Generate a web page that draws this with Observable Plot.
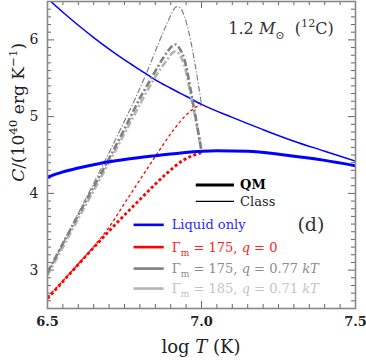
<!DOCTYPE html>
<html><head><meta charset="utf-8">
<script src="https://cdn.jsdelivr.net/npm/d3@7"></script>
<script src="https://cdn.jsdelivr.net/npm/@observablehq/plot@0.6"></script>
<style>body{margin:0;background:#fff} svg{display:block} svg text{white-space:pre}</style>
</head><body><div id="chart"></div>
<script>
// ---- data ----
const liqClassX = [6.5,6.55,6.6,6.65,6.7,6.75,6.8,6.85,6.9,6.95,7.0,7.1,7.2,7.3,7.4,7.5];
const liqClassY = [6.54,6.36,6.19,6.03,5.88,5.74,5.61,5.48,5.37,5.265,5.16,4.99,4.83,4.68,4.55,4.42];
const liqQMX = [6.5,6.55,6.6,6.67,6.75,6.85,6.94,7.05,7.15,7.27,7.4,7.5];
const liqQMY = [4.21,4.28,4.33,4.39,4.44,4.49,4.53,4.555,4.55,4.50,4.43,4.36];
const q0ClassX = [6.5,6.6,6.7,6.76,6.85,6.91,6.95,6.98,7.0];
const q0ClassY = [2.65,3.08,3.56,3.93,4.48,4.83,5.02,5.12,5.16];
const q0QMX = [6.5,6.59,6.7,6.8,6.85,6.89,6.94,6.97,7.0];
const q0QMY = [2.63,3.03,3.51,3.92,4.12,4.27,4.43,4.49,4.53];
const q77ClassX = [6.5,6.6,6.68,6.74,6.79,6.83,6.86,6.89,6.905,6.918,6.93,6.945,6.96,6.98,7.0];
const q77ClassY = [2.96,3.74,4.37,4.86,5.28,5.65,5.95,6.23,6.36,6.43,6.42,6.30,6.08,5.66,5.16];
const q77QMX = [6.5,6.6,6.69,6.75,6.8,6.84,6.87,6.89,6.905,6.915,6.93,6.945,6.967,6.985,7.0];
const q77QMY = [2.97,3.72,4.38,4.84,5.24,5.52,5.73,5.85,5.92,5.94,5.88,5.74,5.30,4.90,4.55];
const q71QMX = [6.5,6.6,6.69,6.75,6.8,6.84,6.87,6.89,6.905,6.915,6.93,6.945,6.967,6.985,7.0];
const q71QMY = [2.93,3.67,4.33,4.78,5.16,5.45,5.64,5.75,5.83,5.85,5.80,5.66,5.24,4.88,4.55];

const xTickLabels = [6.5, 7.0, 7.5];
const xMinorTicks = [6.55,6.6,6.65,6.7,6.75,6.8,6.85,6.9,6.95,7.05,7.1,7.15,7.2,7.25,7.3,7.35,7.4,7.45];
const yTickLabels = [3, 4, 5, 6];
const yMinorTicks = d3.range(26, 65).map(d => d / 10).filter(d => Math.abs(d - Math.round(d)) > 1e-6);

const legendLabels = ["Liquid only", "Γm = 175, q = 0", "Γm = 175, q = 0.77 kT", "Γm = 185, q = 0.71 kT"];
const legendY = [3.59, 3.30, 3.02, 2.76];
const legendX1 = 6.781, legendX2 = 6.879, legendTextX = 6.905;
const keyLabels = ["QM", "Class"];
const keyY = [4.11, 3.895];
const keyX1 = 6.983, keyX2 = 7.107, keyTextX = 7.127;

const zip = (xs, ys) => xs.map((x, i) => ({x, y: ys[i]}));

const W = 366, Hh = 362, mL = 47, mR = 11, mT = 1, mB = 54;
const PW = W - mL - mR, PH = Hh - mT - mB;
const SERIF = "DejaVu Serif";
const BLUE = "#0000ff", RED = "#ff0000", DGRAY = "#808080", LGRAY = "#b4b4b4";

const lineOpts = (stroke, sw, dash) => ({x: "x", y: "y", stroke, strokeWidth: sw, strokeDasharray: dash, curve: "monotone-x", clip: true, strokeLinecap: "butt"});

const legendRows = [
  {x1: legendX1, x2: legendX2, y: legendY[0], stroke: BLUE, sw: 2.6, dash: null},
  {x1: legendX1, x2: legendX2, y: legendY[1], stroke: RED, sw: 2.6, dash: "3,2.4"},
  {x1: legendX1, x2: legendX2, y: legendY[2], stroke: DGRAY, sw: 2.6, dash: "7,2.5,2,2.5"},
  {x1: legendX1, x2: legendX2, y: legendY[3], stroke: LGRAY, sw: 2.6, dash: "7,2.5,2,2.5"}
];
const keyRows = [
  {x1: keyX1, x2: keyX2, y: keyY[0], sw: 3},
  {x1: keyX1, x2: keyX2, y: keyY[1], sw: 1.3}
];

const chart = Plot.plot({
  width: W, height: Hh,
  marginLeft: mL, marginRight: mR, marginTop: mT, marginBottom: mB,
  style: {background: "#fff", fontFamily: SERIF},
  x: {domain: [6.5, 7.5], label: null},
  y: {domain: [2.5, 6.5], label: null},
  marks: [
    Plot.axisX({ticks: xTickLabels, tickSize: 0, tickPadding: 8, tickFormat: d3.format(".1f"), fontSize: 13, fontWeight: "bold", fill: "#222", fontFamily: SERIF}),
    Plot.axisY({ticks: yTickLabels, tickSize: 0, tickPadding: 9, tickFormat: d3.format("d"), fontSize: 14, fill: "#222", fontFamily: SERIF}),
    // inward ticks on all four sides
    Plot.tickX(xMinorTicks, {x: d => d, insetTop: PH - 4, stroke: "#666"}),
    Plot.tickX(xMinorTicks, {x: d => d, insetBottom: PH - 4, stroke: "#666"}),
    Plot.tickX(xTickLabels, {x: d => d, insetTop: PH - 7, stroke: "#666"}),
    Plot.tickX(xTickLabels, {x: d => d, insetBottom: PH - 7, stroke: "#666"}),
    Plot.tickY(yMinorTicks, {y: d => d, insetRight: PW - 4, stroke: "#666"}),
    Plot.tickY(yMinorTicks, {y: d => d, insetLeft: PW - 4, stroke: "#666"}),
    Plot.tickY(yTickLabels, {y: d => d, insetRight: PW - 7, stroke: "#666"}),
    Plot.tickY(yTickLabels, {y: d => d, insetLeft: PW - 7, stroke: "#666"}),
    // curves
    Plot.line(zip(liqClassX, liqClassY), lineOpts(BLUE, 1.5, null)),
    Plot.line(zip(q71QMX, q71QMY), lineOpts(LGRAY, 2.6, "7,2.5,2,2.5")),
    Plot.line(zip(q77QMX, q77QMY), lineOpts(DGRAY, 2.6, "7,2.5,2,2.5")),
    Plot.line(zip(q77ClassX, q77ClassY), lineOpts(DGRAY, 1.2, "6,2,1.2,2")),
    Plot.line(zip(q0ClassX, q0ClassY), lineOpts(RED, 1.3, "3,2.6")),
    Plot.line(zip(q0QMX, q0QMY), lineOpts(RED, 2.8, "3,2.4")),
    Plot.line(zip(liqQMX, liqQMY), lineOpts(BLUE, 3, null)),
    // legend swatches
    Plot.ruleY(legendRows, {x1: "x1", x2: "x2", y: "y", stroke: "stroke", strokeWidth: "sw", strokeDasharray: d => d.dash}),
    Plot.ruleY(keyRows, {x1: "x1", x2: "x2", y: "y", stroke: "#000", strokeWidth: d => d.sw}),
    Plot.frame({stroke: "#888", strokeWidth: 1.6})
  ]
});
document.getElementById("chart").appendChild(chart);

// ---- rich text annotations, placed through the chart scales ----
const sx = chart.scale("x"), sy = chart.scale("y");
const svg = d3.select(chart);
function rich(x, y, parts, {size = 14, fill = "#000", anchor = "start", transform = null, weight = null} = {}) {
  const t = svg.append("text").attr("x", x).attr("y", y).attr("font-size", size)
    .attr("fill", fill).attr("text-anchor", anchor).attr("font-family", SERIF);
  if (transform) t.attr("transform", transform);
  if (weight) t.attr("font-weight", weight);
  let shift = 0;
  for (const p of parts) {
    const s = p.sub ? 0.3 * size : p.sup ? -0.42 * size : 0;
    const ts = t.append("tspan").text(p.t).attr("dy", s - shift);
    shift = s;
    if (p.sub || p.sup) ts.attr("font-size", size * 0.7);
    if (p.i) ts.attr("font-style", "italic");
    if (p.b) ts.attr("font-weight", "bold");
  }
  return t;
}
const lx = sx.apply(legendTextX);
rich(lx, sy.apply(legendY[0]) + 5, [{t: legendLabels[0]}], {size: 13, fill: "#2a2aff"});
rich(lx, sy.apply(legendY[1]) + 5, [{t: "Γ"}, {t: "m", sub: true}, {t: " = 175, "}, {t: "q", i: true}, {t: " = 0"}], {size: 13, fill: "#ff2222"});
rich(lx, sy.apply(legendY[2]) + 5, [{t: "Γ"}, {t: "m", sub: true}, {t: " = 175, "}, {t: "q", i: true}, {t: " = 0.77 "}, {t: "kT", i: true}], {size: 13, fill: "#8c8c8c"});
rich(lx, sy.apply(legendY[3]) + 5, [{t: "Γ"}, {t: "m", sub: true}, {t: " = 185, "}, {t: "q", i: true}, {t: " = 0.71 "}, {t: "kT", i: true}], {size: 13, fill: "#c4c4c4"});
rich(sx.apply(keyTextX), sy.apply(keyY[0]) + 5, [{t: keyLabels[0], b: true}], {size: 13});
rich(sx.apply(keyTextX), sy.apply(keyY[1]) + 5, [{t: keyLabels[1]}], {size: 13, fill: "#222"});
rich(sx.apply(7.357), sy.apply(3.593) + 7, [{t: "(d)"}], {size: 19, anchor: "middle", fill: "#333"});
rich(sx.apply(7.26), sy.apply(6.15) + 6, [{t: "1.2 "}, {t: "M", i: true}, {t: "⊙", sub: true}, {t: "  ("}, {t: "12", sup: true}, {t: "C)"}], {size: 16, anchor: "middle", fill: "#333"});
// axis titles
rich(sx.apply(7.0), Hh - 9, [{t: "log "}, {t: "T", i: true}, {t: " (K)"}], {size: 18, anchor: "middle", fill: "#222"});
rich(0, 0, [{t: "C", i: true}, {t: "/(10"}, {t: "40", sup: true}, {t: " erg K"}, {t: "−1", sup: true}, {t: ")"}], {size: 17, anchor: "middle", fill: "#222", transform: `translate(24,${sy.apply(5.05)}) rotate(-90)`});
</script>
</body></html>
